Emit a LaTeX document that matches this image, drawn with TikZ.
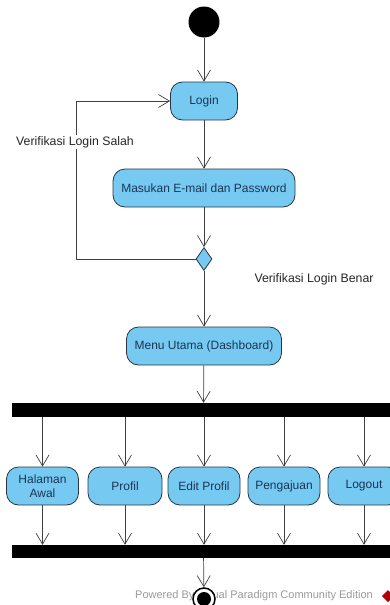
\documentclass[tikz,border=0pt]{standalone}
\usepackage{fontspec}
\setmainfont{Liberation Sans}
\usepackage{tikz}
\usetikzlibrary{shapes.geometric}
\usetikzlibrary{positioning}
\usetikzlibrary{arrows.meta}
\usepackage{xcolor}
\definecolor{actfill}{RGB}{118,202,242}
\definecolor{actline}{RGB}{40,52,66}
\definecolor{acttext}{RGB}{28,52,84}

\begin{document}
\begin{tikzpicture}[x=1pt, y=-1pt,
  act/.style={draw=actline, fill=actfill, rounded corners=12pt, line width=.8pt,
    minimum height=38pt, inner sep=2pt, text=acttext, align=center,
    font=\fontsize{12}{13.5}\selectfont},
  bar/.style={fill=black, minimum width=383pt, inner sep=0pt},
  flow/.style={draw=black!75, line width=.7pt, -{Straight Barb[length=11pt,width=13pt]}},
  lbl/.style={font=\fontsize{12.3}{14}\selectfont, text=black!85}]
\useasboundingbox (0,0) rectangle (390,605);
% start and login part
\node[circle, fill=black, minimum size=31pt, inner sep=0pt] (start) at (204,22) {};
\node[act, minimum width=67pt] (login) at (204,101) {Login};
\node[act, minimum width=182pt] (masukan) at (204,188) {Masukan E-mail dan Password};
\node[diamond, draw=actline, fill=actfill, line width=.8pt, minimum width=16pt,
  minimum height=23pt, inner sep=0pt] (cek) at (204,259) {};
\node[act, minimum width=155pt] (menu) at (204,346) {Menu Utama (Dashboard)};
\draw[flow] (start) -- (login);
\draw[flow] (login) -- (masukan);
\draw[flow] (masukan) -- (cek);
\draw[flow] (cek.west) -- ++(-119,0) |- (login.west);
\draw[flow] (cek) -- (menu);
\node[lbl, fill=white, inner sep=1pt] (salah) at (75,142) {Verifikasi Login Salah};
\node[lbl] (benar) at (314,279) {Verifikasi Login Benar};
% fork / join
\node[bar, minimum height=14pt] (fork) at (203.5,410) {};
\node[bar, minimum height=13pt] (join) at (203.5,551.5) {};
\draw[flow] (menu) -- (fork);
\node[act, minimum width=72pt] (halaman) at (42.5,486) {Halaman\\Awal};
\node[act, minimum width=74pt] (profil) at (125,486) {Profil};
\node[act, minimum width=72pt] (edit) at (204,486) {Edit Profil};
\node[act, minimum width=72pt] (pengajuan) at (284,486) {Pengajuan};
\node[act, minimum width=72pt] (logout) at (364,486) {Logout};
\foreach \m in {halaman,profil,edit,pengajuan,logout}{
  \draw[flow] (\m |- fork.south) -- (\m.north);
  \draw[flow] (\m.south) -- (\m |- join.north);
}
% watermark and end
\node[font=\fontsize{11}{12}\selectfont, text=black!40] (wm) at (254,596)
  {Powered By Visual Paradigm Community Edition};
\fill[red!70!black] (388,590) -- (394,596) -- (388,602) -- (382,596) -- cycle;
\node[circle, draw=black, line width=1.5pt, fill=white, minimum size=22pt,
  inner sep=0pt] (stop) at (204,599) {};
\fill (stop.center) circle (7pt);
\draw[flow] (join) -- (stop);
\end{tikzpicture}
\end{document}
